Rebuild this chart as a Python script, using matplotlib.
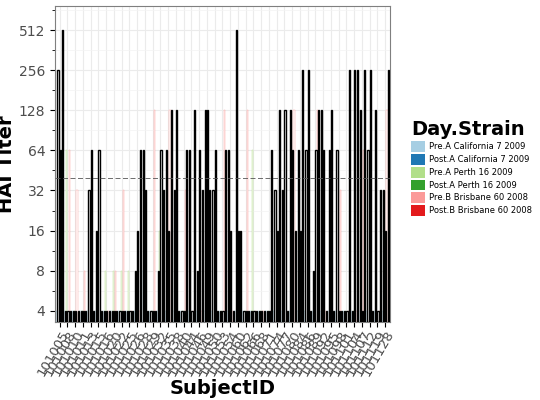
import matplotlib
matplotlib.use("Agg")
import matplotlib.pyplot as plt
import numpy as np

subjects = ["101005", "101008", "101010", "101011", "101013", "101015", "101016", "101020",
            "101022", "101025", "101026", "101028", "101029", "101032", "101035", "101038",
            "101040", "101044", "101046", "101049", "101050", "101053", "101054", "101060",
            "101062", "101066", "101068", "101071", "101074", "101077", "101080", "101084",
            "101086", "101089", "101092", "101095", "101098", "101101", "101104", "101107",
            "101112", "101119", "101128"]
pre_ca = [4, 4, 4, 4, 4, 4, 4, 4, 4, 4, 4, 8, 4, 4, 4, 4, 4, 4, 4, 4, 4, 4, 4, 4, 4, 4, 4, 4, 4, 4, 4, 4, 4, 4, 4, 4, 4, 4, 4, 4, 4, 4, 4]
post_ca = [256, 4, 4, 4, 32, 16, 4, 4, 4, 4, 8, 64, 4, 8, 64, 32, 4, 64, 8, 128, 32, 4, 64, 512, 4, 4, 4, 4, 32, 32, 128, 64, 64, 8, 128, 64, 64, 4, 4, 128, 64, 128, 32]
pre_pe = [16, 64, 4, 4, 4, 4, 8, 8, 8, 8, 4, 4, 4, 16, 4, 4, 4, 4, 4, 4, 4, 4, 4, 4, 4, 64, 4, 4, 4, 4, 4, 4, 4, 4, 4, 4, 4, 4, 4, 4, 4, 4, 4]
post_pe = [64, 4, 4, 4, 64, 64, 4, 4, 4, 4, 16, 32, 4, 64, 16, 128, 4, 4, 64, 128, 64, 4, 16, 16, 4, 4, 4, 4, 16, 128, 64, 16, 256, 64, 64, 128, 4, 4, 256, 4, 256, 4, 16]
pre_br = [4, 64, 32, 8, 4, 4, 4, 8, 32, 4, 4, 4, 128, 4, 128, 4, 32, 4, 4, 4, 4, 128, 4, 4, 128, 4, 4, 4, 4, 4, 128, 4, 4, 128, 4, 4, 32, 4, 4, 64, 4, 4, 128]
post_br = [512, 4, 4, 4, 4, 4, 4, 4, 4, 4, 64, 4, 4, 32, 128, 4, 64, 128, 32, 32, 4, 64, 4, 16, 4, 4, 4, 64, 128, 4, 16, 256, 4, 128, 4, 4, 4, 256, 256, 256, 4, 32, 256]

series = [("Pre.A California 7 2009", pre_ca, "#a6cee3", False),
          ("Post.A California 7 2009", post_ca, "#1f78b4", True),
          ("Pre.A Perth 16 2009", pre_pe, "#b2df8a", False),
          ("Post.A Perth 16 2009", post_pe, "#33a02c", True),
          ("Pre.B Brisbane 60 2008", pre_br, "#fb9a99", False),
          ("Post.B Brisbane 60 2008", post_br, "#e31a1c", True)]

fig = plt.figure(figsize=(5.4, 4.0), dpi=100)
ax = fig.add_axes([0.102, 0.195, 0.62, 0.79])
x = np.arange(len(subjects))
w = 0.9 / 6
base = 2 ** 1.72
for i, (name, vals, col, post) in enumerate(series):
    v = np.array(vals, dtype=float)
    ax.bar(x - 0.45 + w * (i + 0.5), v - base, width=w, bottom=base, color="white",
           edgecolor="black" if post else col, linewidth=1.0 if post else 0.3,
           label=name, zorder=3 if post else 2)
ax.axhline(40, color="#555555", linestyle=(0, (6, 3)), linewidth=0.6, zorder=4)
ax.set_yscale("log", base=2)
ax.set_ylim(base, 2 ** 9.6)
ax.set_xlim(-0.6, len(subjects) - 0.4)
ticks = [4, 8, 16, 32, 64, 128, 256, 512]
ax.set_yticks(ticks)
ax.set_yticklabels([str(t) for t in ticks], fontsize=10, color="#4d4d4d")
ax.set_yticks([2 ** (k + 0.5) for k in range(2, 10)], minor=True)
ax.yaxis.set_minor_formatter(matplotlib.ticker.NullFormatter())
ax.set_xticks(x)
ax.set_xticklabels(subjects, rotation=60, ha="right", rotation_mode="anchor",
                   fontsize=9.5, color="#4d4d4d")
ax.tick_params(axis="x", pad=1)
ax.grid(True, which="major", color="#ebebeb", linewidth=0.8, zorder=0)
ax.grid(True, which="minor", axis="y", color="#f3f3f3", linewidth=0.5, zorder=0)
ax.set_axisbelow(True)
for s in ax.spines.values():
    s.set_color("#7f7f7f")
ax.set_ylabel("HAI Titer", fontsize=14, fontweight="bold", labelpad=2)
ax.set_xlabel("SubjectID", fontsize=14, fontweight="bold", labelpad=0)

handles = [matplotlib.patches.Patch(facecolor=c, edgecolor="none") for _, _, c, _ in series]
leg = fig.legend(handles, [s[0] for s in series], loc="center left", bbox_to_anchor=(0.748, 0.58),
                 frameon=False, fontsize=6, title="Day.Strain", handlelength=1.6, handleheight=1.6,
                 labelspacing=0.25, handletextpad=0.5)
leg.get_title().set_fontsize(14)
leg.get_title().set_fontweight("bold")
leg._legend_box.align = "left"
fig.savefig("out.png")
